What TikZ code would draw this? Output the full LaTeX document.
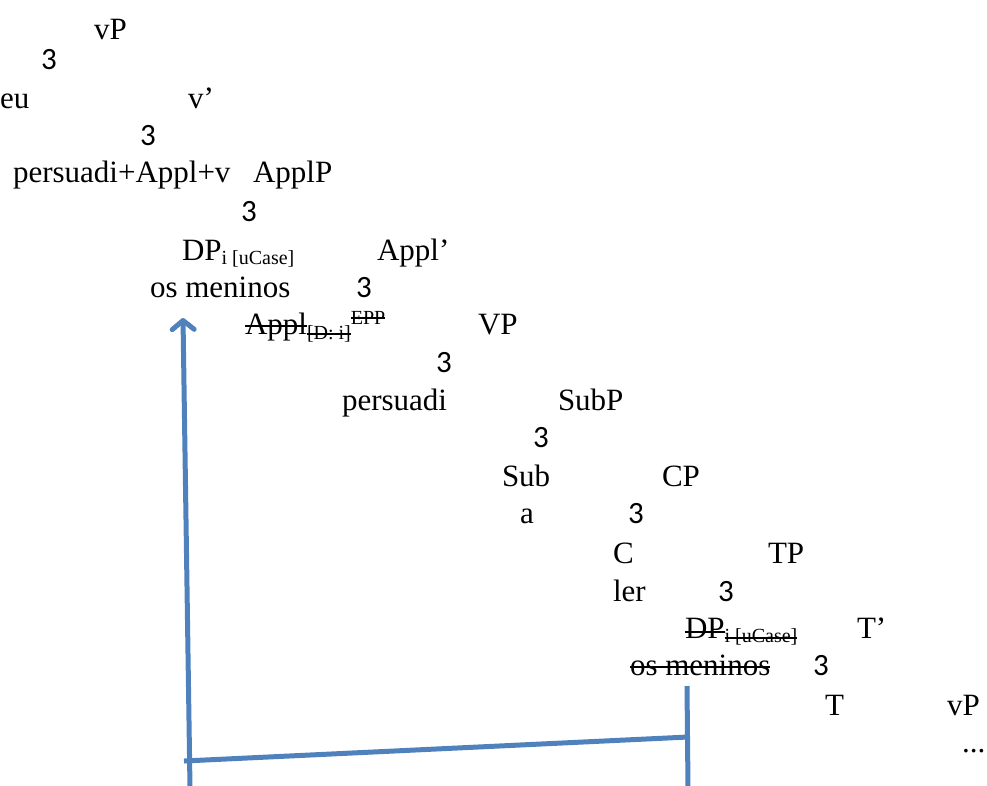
\documentclass[tikz,border=0pt]{standalone}
\usepackage{fontspec}
\setmainfont{Liberation Serif}
\newfontfamily\digitfont{Carlito}
\usetikzlibrary{arrows.meta}
\definecolor{wordblue}{RGB}{79,129,189}
\begin{document}
\begin{tikzpicture}[x=1pt,y=-1pt,
  lbl/.style={anchor=base west, inner sep=0pt, outer sep=0pt, font=\fontsize{31}{37}\selectfont},
  tri/.style={anchor=base west, inner sep=0pt, outer sep=0pt, font=\digitfont\fontsize{31}{37}\selectfont},
  small/.style={anchor=base west, inner sep=0pt, outer sep=0pt, font=\fontsize{20}{24}\selectfont},
  strike/.style={line width=1.4pt},
  blueline/.style={draw=wordblue, line width=5pt}]
\useasboundingbox (0,0) rectangle (987,785);
\node[lbl] (vP) at (94,39) {vP};
\node[tri] (t1) at (41,69) {3};
\node[lbl] (eu) at (0,108) {eu};
\node[lbl] (vbar) at (188,108) {v’};
\node[tri] (t2) at (140,145) {3};
\node[lbl] (pav) at (13,182) {persuadi+Appl+v};
\node[lbl] (applP) at (253,182) {ApplP};
\node[tri] (t3) at (241,221) {3};
\node[lbl] (dp1) at (182,260) {DP};
\node[small] (dp1s) at ([yshift=-4pt]dp1.base east) {i [uCase]};
\node[lbl] (applbar) at (377,260) {Appl’};
\node[lbl] (om1) at (150,297) {os meninos};
\node[tri] (t4) at (356,297) {3};
\node[lbl] (appl) at (245,334) {Appl};
\node[small] (appls) at ([yshift=-5pt]appl.base east) {[D: i]};
\node[small] (applsup) at ([yshift=15pt]appls.base east) {EPP};
\node[lbl] (VP) at (478,334) {VP};
\node[tri] (t5) at (436,372) {3};
\node[lbl] (pers) at (342,410) {persuadi};
\node[lbl] (SubP) at (558,410) {SubP};
\node[tri] (t6) at (533,447) {3};
\node[lbl] (Sub) at (502,486) {Sub};
\node[lbl] (CP) at (662,486) {CP};
\node[lbl] (a) at (520,523) {a};
\node[tri] (t7) at (628,523) {3};
\node[lbl] (C) at (613,563) {C};
\node[lbl] (TP) at (768,563) {TP};
\node[lbl] (ler) at (613,601) {ler};
\node[tri] (t8) at (718,601) {3};
\node[lbl] (dp2) at (685,638) {DP};
\node[small] (dp2s) at ([yshift=-4pt]dp2.base east) {i [uCase]};
\node[lbl] (Tbar) at (857,638) {T’};
\node[lbl] (om2) at (630,675) {os meninos};
\node[tri] (t9) at (813,675) {3};
\node[lbl] (T) at (825,715) {T};
\node[lbl] (vP2) at (947,715) {vP};
\node[lbl] (dots) at (962,752) {...};
% strikes
\draw[strike] ([yshift=8pt]appl.base west) -- ([yshift=8pt]appl.base east);
\draw[strike] ([yshift=5pt]appls.base west) -- ([yshift=5pt]appls.base east);
\draw[strike] ([yshift=6pt]applsup.base west) -- ([yshift=6pt]applsup.base east);
\draw[strike] ([yshift=6pt]dp2.base west) -- ([yshift=6pt]dp2.base east);
\draw[strike] ([yshift=4pt]dp2s.base west) -- ([yshift=4pt]dp2s.base east);
\draw[strike] ([yshift=8pt]om2.base west) -- ([yshift=8pt]om2.base east);
% blue lines
\coordinate (arrS) at (190,788);
\coordinate (arrT) at (183,318);
\coordinate (hL) at (184,761);
\coordinate (hR) at (688,737);
\coordinate (vT) at (687,686);
\coordinate (vB) at (688,788);
\draw[blueline, -{Straight Barb[length=9pt,width=22pt,round]}] (arrS) -- (arrT);
\draw[blueline] (hL) -- (hR);
\draw[blueline] (vT) -- (vB);
\end{tikzpicture}
\end{document}
